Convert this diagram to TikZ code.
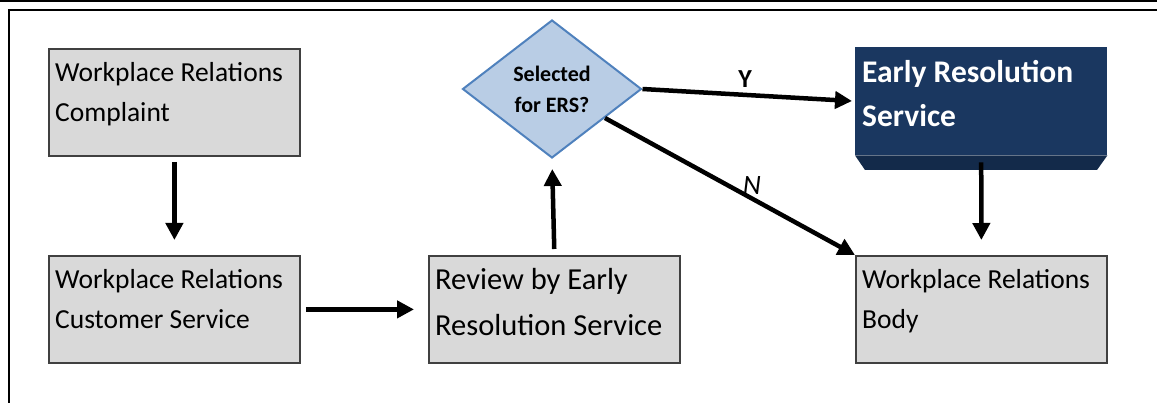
\documentclass[tikz,border=0pt]{standalone}
\usepackage{fontspec}
\setmainfont{Carlito}
\usetikzlibrary{shapes.geometric,arrows.meta}

\definecolor{boxfill}{HTML}{D9D9D9}
\definecolor{boxedge}{HTML}{404040}
\definecolor{decfill}{HTML}{B9CDE5}
\definecolor{decedge}{HTML}{4F81BD}
\definecolor{navy}{HTML}{1A3760}
\definecolor{navydark}{HTML}{132A4A}

\begin{document}
\begin{tikzpicture}[x=1pt,y=-1pt,
  graybox/.style={draw=boxedge, fill=boxfill, line width=1.8pt, inner sep=0pt,
    minimum width=251pt, minimum height=107pt, anchor=north west},
  boxtext/.style={inner sep=0pt, anchor=north west, align=left,
    font=\fontsize{27.5}{40}\selectfont},
  bigtext/.style={inner sep=0pt, anchor=north west, align=left,
    font=\fontsize{30.5}{46}\selectfont},
  decision/.style={diamond, draw=decedge, fill=decfill, line width=2pt, inner sep=0pt,
    minimum width=179pt, minimum height=138pt, align=center,
    font=\bfseries\fontsize{22}{31}\selectfont},
  flow/.style={line width=4.5pt, -{Triangle[length=17pt,width=17pt]}},
  frame/.style={line width=2pt}
]
\useasboundingbox (0,0) rectangle (1157,403);

% page rules
\draw[frame] (0,1.5) -- (1157,1.5);
\draw[frame] (8,10.5) -- (1157,10.5);
\draw[frame] (9,10.5) -- (9,403);

% process boxes
\node[graybox] (complaint) at (48,48) {};
\node[boxtext] (complaintT) at (55,62) {Workplace Relations\\Complaint};

\node[graybox] (cs) at (48,255) {};
\node[boxtext] (csT) at (55,269) {Workplace Relations\\Customer Service};

\node[graybox] (review) at (428,255) {};
\node[bigtext] (reviewT) at (435,268) {Review by Early\\Resolution Service};

\node[graybox] (body) at (855,255) {};
\node[boxtext] (bodyT) at (862,269) {Workplace Relations\\Body};

% decision
\node[decision] (dec) at (552,89) {Selected\\for ERS?};

% early resolution service (bevelled block)
\node[fill=navy, inner sep=0pt, minimum width=252pt, minimum height=108pt, anchor=north west]
  (ers) at (855,47) {};
\fill[navydark] (ers.south west) -- (ers.south east) -- (1097,170) -- (865,170) -- cycle;
\node[inner sep=0pt, anchor=north west, align=left, text=white,
  font=\bfseries\fontsize{31.5}{44}\selectfont] (ersT) at (862,60) {Early Resolution\\Service};

% connectors
\draw[flow, shorten <=5pt, shorten >=15pt] (complaint.south) -- (cs.north);
\draw[flow, shorten <=5pt, shorten >=14pt] (cs.east) -- (review.west);
\draw[flow, shorten <=6pt, shorten >=10pt] (review.north) -- (dec.south);
\draw[flow, shorten >=3pt] (dec.east) -- (ers.west);
\draw[flow] (dec) -- (body.north west);
\draw[flow, shorten <=7pt, shorten >=15pt] (ers.south) -- (body.north);

% branch labels
\node[font=\bfseries\fontsize{26}{26}\selectfont, inner sep=0pt] (yes) at (745,79) {Y};
\node[font=\itshape\fontsize{28}{28}\selectfont, inner sep=0pt] (no) at (752,186) {N};
\end{tikzpicture}
\end{document}
